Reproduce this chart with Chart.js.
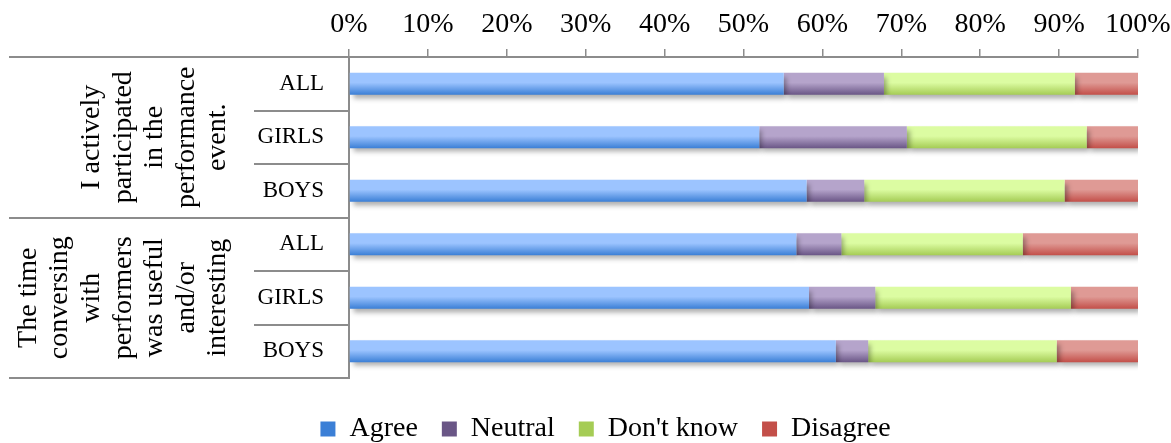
<!DOCTYPE html>
<html><head><meta charset="utf-8">
<script src="https://cdn.jsdelivr.net/npm/chart.js@4.4.0/dist/chart.umd.min.js"></script>
<style>html,body{margin:0;padding:0;background:#fff;overflow:hidden}</style>
</head><body>
<canvas id="c" width="1171" height="443"></canvas>
<script>
// ---- data ----
const categories = ['ALL','GIRLS','BOYS','ALL','GIRLS','BOYS'];
const groupLabels = [
  ['I actively','participated','in the','performance','event.'],
  ['The time','conversing','with','performers','was useful','and/or','interesting']
];
const groupSizes = [3, 3];
const seriesNames = ['Agree', 'Neutral', "Don't know", 'Disagree'];
const agree    = [55.1, 52.0, 58.0, 56.7, 58.3, 61.7];
const neutral  = [12.7, 18.7,  7.3,  5.7,  8.4,  4.1];
const dontKnow = [24.2, 22.8, 25.4, 23.0, 24.8, 23.9];
const disagree = [ 8.0,  6.5,  9.3, 14.6,  8.5, 10.3];
const tickSuffix = '%';

// ---- style ----
const FONT = '"Liberation Serif", "Times New Roman", serif';
const AXIS = '#8c8c8c';
const BAR_FRACTION = 0.41;
const palette = [
  ['#9cc4ff', '#3b7fd6', '#6aa2ec'],
  ['#b5a4cb', '#6a5686', '#8f7aaa'],
  ['#dcfca2', '#a5cc55', '#c4e67a'],
  ['#df9a95', '#c34f49', '#d3766f']
];
function grad(i) {
  const [top, bottom, mid] = palette[i];
  return (ctx) => {
    const chart = ctx.chart;
    const y = chart.scales && chart.scales.y;
    if (!y || ctx.dataIndex === undefined || !chart.chartArea) return mid;
    const c = y.getPixelForValue(ctx.dataIndex);
    const h = (y.height / categories.length) * BAR_FRACTION;
    const g = chart.ctx.createLinearGradient(0, c - h / 2, 0, c + h / 2);
    g.addColorStop(0, top);
    g.addColorStop(0.45, top);
    g.addColorStop(1, bottom);
    return g;
  };
}

const values = [agree, neutral, dontKnow, disagree];
const datasets = seriesNames.map((name, i) => ({
  label: name,
  data: values[i],
  backgroundColor: grad(i),
  borderWidth: 0,
  categoryPercentage: 1,
  barPercentage: BAR_FRACTION
}));

const shadow = {
  id: 'shadow',
  beforeDatasetsDraw(chart) {
    const c = chart.ctx;
    c.save();
    c.shadowColor = 'rgba(0,0,0,0.32)';
    c.shadowOffsetX = 3;
    c.shadowOffsetY = 4;
    c.shadowBlur = 5;
  },
  afterDatasetsDraw(chart) { chart.ctx.restore(); }
};

const decor = {
  id: 'decor',
  afterDraw(chart) {
    const { ctx, chartArea: a, scales: { y } } = chart;
    const n = categories.length;
    const step = y.getPixelForValue(1) - y.getPixelForValue(0);
    const edge = i => y.getPixelForValue(i) - step / 2;
    const bounds = [0];
    let acc = 0;
    groupSizes.forEach(s => { acc += s; bounds.push(acc); });
    ctx.save();
    ctx.strokeStyle = AXIS;
    ctx.lineWidth = 2;
    for (let i = 0; i <= n; i++) {
      const yy = Math.round(edge(i));
      const isGroup = bounds.includes(i);
      ctx.beginPath();
      ctx.moveTo(isGroup ? 9 : a.left - 95, yy);
      ctx.lineTo(a.left, yy);
      ctx.stroke();
    }
    ctx.fillStyle = '#000';
    ctx.font = '28px ' + FONT;
    ctx.textAlign = 'center';
    ctx.textBaseline = 'middle';
    let s0 = 0;
    groupLabels.forEach((lines, g) => {
      const yc = (edge(s0) + edge(s0 + groupSizes[g])) / 2;
      const lastX = a.left - 131;
      lines.forEach((t, i) => {
        const x = lastX - (lines.length - 1 - i) * 31.6;
        ctx.save();
        ctx.translate(x, yc);
        ctx.rotate(-Math.PI / 2);
        ctx.fillText(t, 0, 0);
        ctx.restore();
      });
      s0 += groupSizes[g];
    });
    ctx.restore();
  }
};

const legendFix = {
  id: 'legendFix',
  beforeLayout(chart) {
    const lg = chart.legend;
    if (lg && !lg.__patched) {
      const orig = lg.fit;
      lg.fit = function () { orig.call(this); this.height = 65; };
      lg.__patched = true;
    }
  },
  afterLayout(chart) {
    const lg = chart.legend;
    if (!lg) return;
    lg.top += 13; lg.bottom += 13;
    lg.left += 20; lg.right += 20;
  }
};

new Chart(document.getElementById('c'), {
  type: 'bar',
  data: { labels: categories, datasets },
  options: {
    indexAxis: 'y',
    responsive: false,
    animation: false,
    devicePixelRatio: 1,
    layout: { padding: 0 },
    plugins: {
      tooltip: { enabled: false },
      legend: {
        position: 'bottom',
        labels: {
          boxWidth: 15, boxHeight: 15, padding: 24,
          color: '#000',
          font: { family: FONT, size: 28 }
        }
      }
    },
    scales: {
      x: {
        position: 'top',
        stacked: true,
        min: 0, max: 100,
        ticks: {
          stepSize: 10,
          color: '#000',
          padding: 8,
          font: { family: FONT, size: 28 },
          maxRotation: 0,
          callback: v => v + tickSuffix
        },
        grid: { drawOnChartArea: false, drawTicks: true, tickLength: 8, tickColor: AXIS, lineWidth: 1.5 },
        border: { color: AXIS, width: 2 },
        afterFit: s => { s.height = 57; s.paddingRight = 33; }
      },
      y: {
        stacked: true,
        ticks: { color: '#000', padding: 25, font: { family: FONT, size: 23 } },
        grid: { drawOnChartArea: false, drawTicks: false },
        border: { color: AXIS, width: 2 },
        afterFit: s => { s.width = 349; }
      }
    }
  },
  plugins: [shadow, decor, legendFix]
});
</script>
</body></html>
